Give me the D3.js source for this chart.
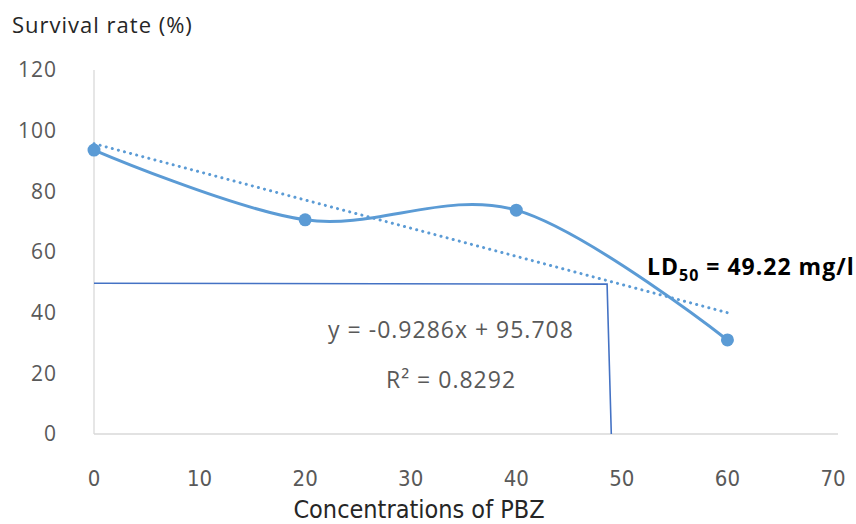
<!DOCTYPE html>
<html><head><meta charset="utf-8">
<script src="https://cdn.jsdelivr.net/npm/d3@7"></script>
<style>body{margin:0;background:#fff}svg{display:block}</style>
</head><body><svg id="c" width="856" height="524"></svg>
<script>
const concentrations = [0, 20, 40, 60];
const survival = [93.6, 70.6, 73.8, 31];
const trendSlope = -0.9286, trendIntercept = 95.708;
const trendX = [0, 60];
const refX = [0, 48.6, 49.0];
const refY = [49.7, 49.4, 0];
const xTicks = [0, 10, 20, 30, 40, 50, 60, 70];
const yTicks = [0, 20, 40, 60, 80, 100, 120];
const eqText = "y = -0.9286x + 95.708";
const r2Text = "R² = 0.8292";
const ldLabel = ["LD", "50", " = 49.22 mg/l"];

const svg = d3.select("#c");
const x = d3.scaleLinear().domain([0, 70]).range([94, 833]);
const y = d3.scaleLinear().domain([0, 120]).range([434, 70]);

// axes lines
svg.append("line").attr("x1", x(0)).attr("x2", 838).attr("y1", y(0)).attr("y2", y(0)).attr("stroke", "#D9D9D9").attr("stroke-width", 1.3);
svg.append("line").attr("x1", x(0)).attr("x2", x(0)).attr("y1", y(0)).attr("y2", y(120)).attr("stroke", "#D9D9D9").attr("stroke-width", 1.3);

// y tick labels
svg.selectAll(".yt").data(yTicks).join("text")
  .attr("x", 57).attr("y", d => y(d)).attr("dy", "0.35em")
  .attr("text-anchor", "end").attr("fill", "#595959")
  .style("font", "21px 'Open Sans', sans-serif").style("letter-spacing", "1px").text(d => d);

// x tick labels
svg.selectAll(".xt").data(xTicks).join("text")
  .attr("x", d => x(d)).attr("y", 478).attr("dy", "0.35em")
  .attr("text-anchor", "middle").attr("fill", "#595959")
  .style("font", "22px 'Liberation Sans Narrow', 'DejaVu Sans Condensed', sans-serif").text(d => d);

// axis titles
svg.append("text").attr("x", 12).attr("y", 33).attr("fill", "#262626")
  .style("font", "22px 'Open Sans', sans-serif").style("letter-spacing", "1px").text("Survival rate (%)");
svg.append("text").attr("x", 419).attr("y", 518).attr("text-anchor", "middle").attr("fill", "#262626")
  .style("font", "25px 'Liberation Sans Narrow', 'DejaVu Sans Condensed', sans-serif").text("Concentrations of PBZ");

// reference lines
const refData = refX.map((v, i) => [v, refY[i]]);
svg.append("path").datum(refData)
  .attr("d", d3.line().x(d => x(d[0])).y(d => y(d[1])))
  .attr("fill", "none").attr("stroke", "#4472C4").attr("stroke-width", 1.6);

// trend line
svg.append("path").datum(trendX.map(v => [v, trendSlope * v + trendIntercept]))
  .attr("d", d3.line().x(d => x(d[0])).y(d => y(d[1])))
  .attr("fill", "none").attr("stroke", "#5B9BD5").attr("stroke-width", 3)
  .attr("stroke-dasharray", "0.1 6.2").attr("stroke-linecap", "round");

// series
const pts = concentrations.map((c, i) => [c, survival[i]]);
svg.append("path").datum(pts)
  .attr("d", d3.line().x(d => x(d[0])).y(d => y(d[1])).curve(d3.curveCardinal.tension(0)))
  .attr("fill", "none").attr("stroke", "#5B9BD5").attr("stroke-width", 3);
svg.selectAll(".pt").data(pts).join("circle")
  .attr("cx", d => x(d[0])).attr("cy", d => y(d[1])).attr("r", 6.5).attr("fill", "#5B9BD5");

// equation
svg.append("text").attr("x", 451).attr("y", 330).attr("dy", "0.35em").attr("text-anchor", "middle")
  .attr("fill", "#595959").style("font", "23px 'Open Sans', sans-serif").style("letter-spacing", "1px").text(eqText);
svg.append("text").attr("x", 451).attr("y", 380).attr("dy", "0.35em").attr("text-anchor", "middle")
  .attr("fill", "#595959").style("font", "23px 'Open Sans', sans-serif").style("letter-spacing", "1px").text(r2Text);

// LD50 label
const ld = svg.append("text").attr("x", 647).attr("y", 275).attr("fill", "#000")
  .style("font", "bold 23px 'Open Sans', sans-serif").style("letter-spacing", "1px");
ld.append("tspan").text(ldLabel[0]);
ld.append("tspan").attr("dy", 6).style("font-size", "16px").text(ldLabel[1]);
ld.append("tspan").attr("dy", -6).text(ldLabel[2]);
</script></body></html>
